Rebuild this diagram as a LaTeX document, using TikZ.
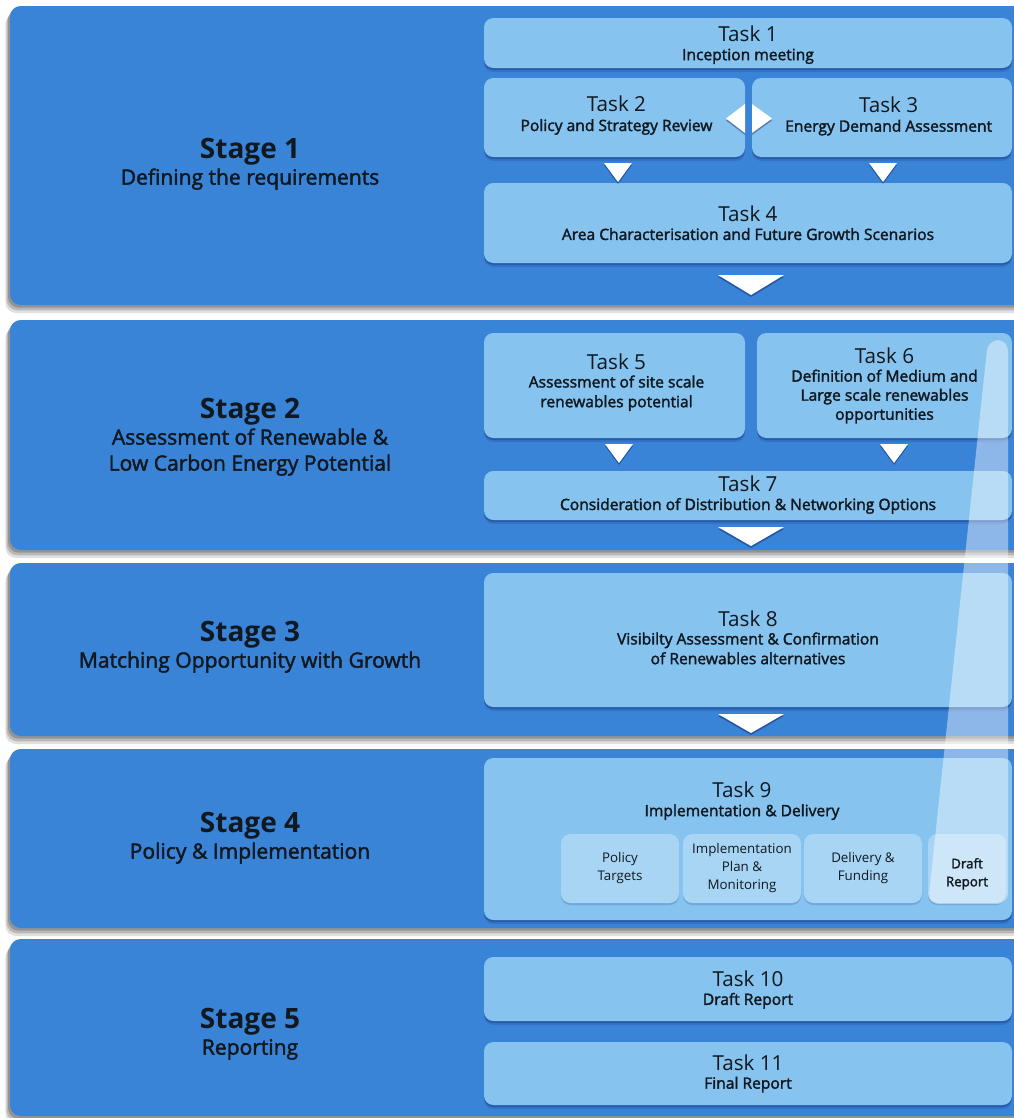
\documentclass[tikz,border=0pt]{standalone}
\usepackage{fontspec}
\setmainfont{Open Sans}
\newfontfamily\semibold[FakeBold=2]{Open Sans}
\usetikzlibrary{fit,shadows}

\definecolor{stageblue}{HTML}{3A84D8}
\definecolor{taskblue}{HTML}{86C3EE}
\definecolor{subblue}{HTML}{A9D5F4}
\definecolor{inktext}{HTML}{101820}

\tikzset{
  bandshadow/.style={
    general shadow={shadow xshift=-1.5pt, shadow yshift=-2pt, fill=black, opacity=0.2},
    general shadow={shadow xshift=-2.5pt, shadow yshift=-4pt, fill=black, opacity=0.18},
    general shadow={shadow xshift=-3.5pt, shadow yshift=-6pt, fill=black, opacity=0.12}},
  boxshadow/.style={
    general shadow={shadow xshift=0pt, shadow yshift=-1.5pt, fill=black!70!blue, opacity=0.22},
    general shadow={shadow xshift=0pt, shadow yshift=-3pt, fill=black!70!blue, opacity=0.12}},
  stageband/.style={fill=stageblue, rounded corners=8pt, inner sep=0pt, outer sep=0pt, bandshadow},
  taskbox/.style={fill=taskblue, rounded corners=7pt, inner sep=0pt, outer sep=0pt, boxshadow},
  subbox/.style={fill=subblue, rounded corners=7pt, inner sep=0pt, outer sep=0pt,
    general shadow={shadow xshift=0pt, shadow yshift=-1.5pt, fill=black!60!blue, opacity=0.15}},
  tri/.style={fill=white,
    general shadow={shadow xshift=0pt, shadow yshift=-1.5pt, fill=black!70!blue, opacity=0.35}},
  stagelabel/.style={text=inktext, align=center, inner sep=0pt,
    font=\semibold\fontsize{15.8}{19.5}\selectfont},
  tasklabel/.style={text=inktext, align=center, inner sep=0pt,
    font=\semibold\fontsize{11.7}{14.3}\selectfont},
  sublabel/.style={text=inktext, align=center, inner sep=0pt,
    font=\fontsize{10}{13.5}\selectfont},
}
\newcommand\stagetitle[1]{{\rmfamily\bfseries\fontsize{21}{24}\selectfont #1}}
\newcommand\tasktitle[1]{{\rmfamily\fontsize{15.5}{18}\selectfont #1}}
\newcommand\downtri[4]{\path[tri] (#1-#3/2,#2) -- (#1+#3/2,#2) -- (#1,#2+#4) -- cycle;}

\begin{document}
\begin{tikzpicture}[x=0.75pt, y=-0.75pt]
\useasboundingbox (0,0) rectangle (1014,1118);

% stage bands
\node[stageband, fit={(10,6) (1030,305)}]   (s1) {};
\node[stageband, fit={(10,320) (1030,550)}] (s2) {};
\node[stageband, fit={(10,563) (1030,736)}] (s3) {};
\node[stageband, fit={(10,749) (1030,928)}] (s4) {};
\node[stageband, fit={(10,939) (1030,1116)}] (s5) {};

% task boxes
\node[taskbox, fit={(484,18) (1012,68)}]    (b1) {};
\node[taskbox, fit={(484,78) (745,157)}]    (b2) {};
\node[taskbox, fit={(752,78) (1012,157)}]   (b3) {};
\node[taskbox, fit={(484,183) (1012,263)}]  (b4) {};
\node[taskbox, fit={(484,333) (745,438)}]   (b5) {};
\node[taskbox, fit={(757,333) (1012,438)}]  (b6) {};
\node[taskbox, fit={(484,471) (1012,520)}]  (b7) {};
\node[taskbox, fit={(484,573) (1012,707)}]  (b8) {};
\node[taskbox, fit={(484,758) (1012,920)}]  (b9) {};
\node[taskbox, fit={(484,957) (1012,1021)}] (b10) {};
\node[taskbox, fit={(484,1042) (1012,1105)}] (b11) {};

% task 9 parts
\node[subbox, fit={(561,834) (679,903)}] (p1) {};
\node[subbox, fit={(683,834) (801,903)}] (p2) {};
\node[subbox, fit={(804,834) (922,903)}] (p3) {};
\node[subbox, fit={(928,834) (1006,903)}] (p4) {};

% flow arrows
\path[tri] (745,104) -- (745,133) -- (726,118.5) -- cycle;
\path[tri] (752,104) -- (752,133) -- (772,118.5) -- cycle;
\downtri{618}{163}{28}{19}
\downtri{883}{163}{28}{19}
\downtri{751}{275}{66}{20}
\downtri{619}{444}{28}{19}
\downtri{894}{444}{28}{19}
\downtri{751}{527}{66}{19}
\downtri{751}{714}{66}{19}

% draft report band running down the right side
\fill[white, opacity=0.42, rounded corners=8pt]
  (988,340) -- (1008,340) -- (1008,904) -- (928,904) -- cycle;

% stage labels
\node[stagelabel] (s1t) at (250,164) {\stagetitle{Stage 1}\\Defining the requirements};
\node[stagelabel] (s2t) at (250,437) {\stagetitle{Stage 2}\\Assessment of Renewable \&\\Low Carbon Energy Potential};
\node[stagelabel] (s3t) at (250,647) {\stagetitle{Stage 3}\\Matching Opportunity with Growth};
\node[stagelabel] (s4t) at (250,838) {\stagetitle{Stage 4}\\Policy \& Implementation};
\node[stagelabel] (s5t) at (250,1034) {\stagetitle{Stage 5}\\Reporting};

% task labels
\node[tasklabel] (t1) at ([yshift=-1.5pt]b1.center) {\tasktitle{Task 1}\\[-0.5pt]Inception meeting};
\node[tasklabel] (t2) at ([xshift=1.5pt,yshift=1.5pt]b2.center) {\tasktitle{Task 2}\\[0pt]Policy and Strategy Review};
\node[tasklabel] (t3) at ([xshift=5pt,yshift=1pt]b3.center) {\tasktitle{Task 3}\\[0pt]Energy Demand Assessment};
\node[tasklabel] (t4) at ([yshift=0pt]b4.center) {\tasktitle{Task 4}\\[-0.5pt]Area Characterisation and Future Growth Scenarios};
\node[tasklabel] (t5) at ([xshift=1.5pt,yshift=2.5pt]b5.center) {\tasktitle{Task 5}\\[-0.5pt]Assessment of site scale\\[0.5pt]renewables potential};
\node[tasklabel] (t6) at ([yshift=0pt]b6.center) {\tasktitle{Task 6}\\[-0.5pt]Definition of Medium and\\Large scale renewables\\opportunities};
\node[tasklabel] (t7) at ([yshift=0.5pt]b7.center) {\tasktitle{Task 7}\\[-0.5pt]Consideration of Distribution \& Networking Options};
\node[tasklabel] (t8) at ([yshift=2pt]b8.center) {\tasktitle{Task 8}\\[-0.5pt]Visibilty Assessment \& Confirmation\\[0.5pt]of Renewables alternatives};
\node[tasklabel] (t9) at (742,801) {\tasktitle{Task 9}\\[-0.5pt]Implementation \& Delivery};
\node[tasklabel] (t10) at ([yshift=-0.5pt]b10.center) {\tasktitle{Task 10}\\[-0.5pt]Draft Report};
\node[tasklabel] (t11) at ([yshift=0pt]b11.center) {\tasktitle{Task 11}\\[-0.5pt]Final Report};

% task 9 part labels
\node[sublabel] (p1t) at (p1.center) {Policy\\Targets};
\node[sublabel] (p2t) at (p2.center) {Implementation\\Plan \&\\Monitoring};
\node[sublabel] (p3t) at (p3.center) {Delivery \&\\Funding};
\node[sublabel, font=\semibold\fontsize{10}{13.5}\selectfont] (p4t) at ([yshift=-4pt]p4.center) {Draft\\Report};
\end{tikzpicture}
\end{document}
